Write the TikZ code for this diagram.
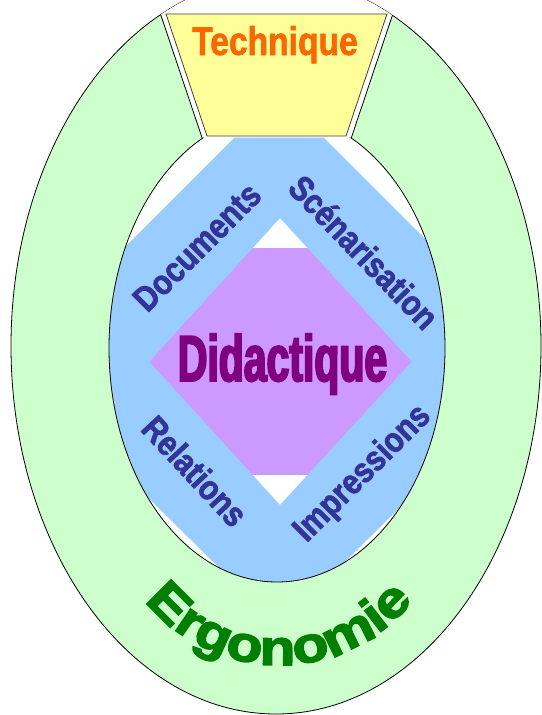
\documentclass[tikz,border=0pt]{standalone}
\usepackage{fontspec}
\setmainfont{Liberation Sans}
\newfontfamily\techfont{Liberation Sans Bold}[FakeStretch=0.84,FakeBold=1.5]
\newfontfamily\didfont{Liberation Sans Bold}[FakeStretch=0.63,FakeBold=3]
\newfontfamily\labfont{Liberation Sans Bold}[FakeStretch=0.86,FakeBold=2]
\newfontfamily\ergfont{Liberation Sans Bold}[FakeStretch=1.18,FakeBold=3]
\usetikzlibrary{decorations.text}
\definecolor{cgreen}{HTML}{CCFFCC}
\definecolor{cyellow}{HTML}{FFFF99}
\definecolor{cblue}{HTML}{99CCFF}
\definecolor{cpurple}{HTML}{CC99FF}
\definecolor{clabel}{HTML}{333399}
\definecolor{cdid}{HTML}{800080}
\definecolor{corange}{HTML}{FF6600}
\definecolor{cergo}{HTML}{008000}
\begin{document}
\begin{tikzpicture}[x=1pt,y=-1pt,
  outline/.style={draw=black,line width=0.8pt},
  lab/.style={font=\labfont\fontsize{35}{37}\selectfont,text=clabel,inner sep=0pt}]
\useasboundingbox (0,0) rectangle (541,715);
% outer ring
\path[fill=cgreen,outline] (276,346) ellipse [x radius=265,y radius=368];
% inner ellipse
\fill[white] (277,348) ellipse [x radius=168,y radius=234];
\begin{scope}
  \clip (277,348) ellipse [x radius=168,y radius=234];
  \fill[cpurple] (90,248) rectangle (470,475);
  \fill[cblue,even odd rule]
    (279,93) -- (547.5,361.5) -- (279,627) -- (10.5,361.5) -- cycle
    (280,218) -- (411.7,361.7) -- (280,505) -- (149.3,361.7) -- cycle;
\end{scope}
\path[outline] (277,348) ellipse [x radius=168,y radius=234];
% gap around the trapezoid
\begin{scope}
  \clip (276,346) ellipse [x radius=265,y radius=368];
  \fill[white] (145.7,-30) -- (407.6,-30) -- (351.3,137.5) -- (202.0,137.5) -- cycle;
  \draw[line width=0.8pt] (145.7,-30) -- (202.3,138.5);
  \draw[line width=0.8pt] (407.6,-30) -- (351.2,138.2);
\end{scope}
% trapezoid
\path[fill=cyellow,draw=black!75,line width=0.8pt] (166,14) -- (387,14) -- (346,136) -- (207,136) -- cycle;
% texts
\node[anchor=base,text=corange,inner sep=0pt,font=\techfont\fontsize{40}{44}\selectfont] (tech) at (275,55) {Technique};
\node[anchor=base,text=cdid,inner sep=0pt,font=\didfont\fontsize{65}{70}\selectfont] (did) at (282.5,381) {Didactique};
\node[lab,rotate=45] (doc) at (197,247) {Documents};
\node[lab,rotate=-46] (scen) at (364,252) {Scénarisation};
\node[lab,rotate=-47] (rel) at (195,471) {Relations};
\node[lab,rotate=45] (imp) at (363,474) {Impressions};
\path[decorate,decoration={text along path,text align=center,
  text={|\ergfont\fontsize{50}{54}\selectfont\color{cergo}|Ergonomie}}]
  (279,493) ++(150:172) arc[start angle=150,end angle=30,radius=172];
\end{tikzpicture}
\end{document}
